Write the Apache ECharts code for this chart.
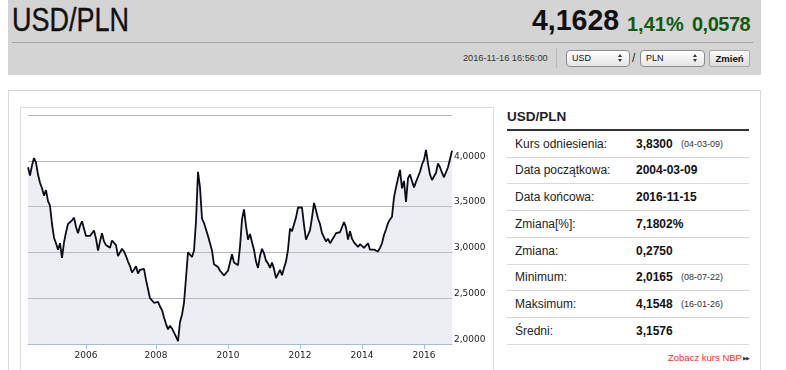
<!DOCTYPE html>
<html><head><meta charset="utf-8">
<script src="https://cdn.jsdelivr.net/npm/echarts@6/dist/echarts.min.js"></script>
<style>
html,body{margin:0;padding:0;background:#fff;width:786px;height:370px;overflow:hidden;font-family:"Liberation Sans",Arial,sans-serif;}
.a{position:absolute;white-space:nowrap;}
.sel{position:absolute;top:50px;height:15px;border:1px solid #8c8c8c;border-radius:4px;background:linear-gradient(#ffffff,#e6e6e6);font-size:9px;line-height:15px;color:#111;}
.sel span{position:absolute;left:5px;top:0;}
.up{position:absolute;right:7px;top:3px;width:0;height:0;border-left:2.5px solid transparent;border-right:2.5px solid transparent;border-bottom:3px solid #333;}
.dn{position:absolute;right:7px;top:8px;width:0;height:0;border-left:2.5px solid transparent;border-right:2.5px solid transparent;border-top:3px solid #333;}
.row{position:absolute;left:507px;width:242px;height:26px;border-bottom:1px solid #dadada;font-size:12px;line-height:26px;color:#222;}
.row .l{position:absolute;left:8px;top:0;}
.row .v{position:absolute;left:129px;top:0;font-weight:bold;color:#111;}
.row .s{position:absolute;left:174px;top:0;font-size:9px;color:#333;}
</style></head><body>
<!-- header -->
<div class="a" style="left:8px;top:0;width:753px;height:75px;background:#d4d4d4;"></div>
<div class="a" style="left:12px;top:4px;font-size:32.5px;line-height:32.5px;color:#111;transform:scaleX(0.83);transform-origin:0 0;-webkit-text-stroke:0.4px #111;">USD/PLN</div>
<div class="a" style="left:532px;top:5px;font-size:30px;line-height:30px;font-weight:bold;color:#111;transform:scaleX(0.95);transform-origin:0 0;">4,1628</div>
<div class="a" style="left:627px;top:13.8px;font-size:20px;line-height:20px;font-weight:bold;color:#125a12;">1,41%</div>
<div class="a" style="left:692px;top:13.8px;font-size:20px;line-height:20px;font-weight:bold;color:#125a12;letter-spacing:-0.5px;">0,0578</div>
<div class="a" style="left:12px;top:42px;width:741px;height:1px;background:#a4a4a4;"></div>
<div class="a" style="left:463px;top:53.5px;font-size:9.2px;line-height:9.2px;color:#333;">2016-11-16 16:56:00</div>
<div class="a" style="left:556px;top:48px;width:1px;height:20px;background:#b8b8b8;"></div>
<div class="sel" style="left:566px;width:62px;"><span>USD</span><i class="up"></i><i class="dn"></i></div>
<div class="a" style="left:632px;top:51px;font-size:12px;line-height:14px;color:#222;">/</div>
<div class="sel" style="left:640px;width:63px;"><span>PLN</span><i class="up"></i><i class="dn"></i></div>
<div class="a" style="left:709px;top:50px;width:39px;height:15px;border:1px solid #a8a8a8;border-radius:2px;background:linear-gradient(#fafafa,#dcdcdc);font-size:9.5px;line-height:15px;font-weight:bold;text-align:center;color:#111;">Zmień</div>
<!-- panels -->
<div class="a" style="left:8px;top:90px;width:751px;height:300px;border:1px solid #d8d8d8;"></div>
<div class="a" style="left:20px;top:107px;width:472px;height:300px;border:1px solid #dedede;"></div>
<!-- table -->
<div class="a" style="left:507px;top:110px;font-size:13.5px;line-height:13.5px;font-weight:bold;color:#222;">USD/PLN</div>
<div class="a" style="left:507px;top:129px;width:242px;height:1.5px;background:#333;"></div>
<div id="tbl"></div>
<div class="a" style="left:668px;top:353px;font-size:9.5px;line-height:10px;color:#f0321c;">Zobacz kurs NBP</div>
<div class="a" style="left:743px;top:355px;font-size:5px;line-height:6px;color:#333;letter-spacing:-1px;">▶▶</div>
<div id="chart" class="a" style="left:0;top:0;width:786px;height:370px;z-index:3;"></div>
<script>
// ---- data ----
const years = ['2004','2005','2006','2007','2008','2009','2010','2011','2012','2013','2014','2015','2016'];
const samplesPerYear = [13,16,18,17,18,18,18,18,16,15,16,15,15];
const labelYears = ['2006','2008','2010','2012','2014','2016'];
const yTickValues = [2.0, 2.5, 3.0, 3.5, 4.0];
const rates = [
 3.93,3.84,3.95,4.03,3.98,3.85,3.76,3.70,3.62,3.68,
 3.56,3.51,3.31,3.16,3.10,3.03,3.10,2.94,3.11,3.22,
 3.31,3.32,3.35,3.38,3.28,3.21,3.29,3.34,3.36,3.18,
 3.16,3.18,3.20,3.24,3.15,3.02,3.12,3.21,3.12,3.08,
 3.09,3.05,3.13,3.13,3.08,2.96,2.96,3.04,3.01,2.96,
 2.90,2.85,2.78,2.81,2.85,2.77,2.81,2.79,2.82,2.70,
 2.60,2.50,2.48,2.45,2.46,2.46,2.41,2.37,2.29,2.22,
 2.16,2.20,2.17,2.15,2.08,2.03,2.24,2.32,2.45,2.72,
 3.00,2.98,2.95,3.02,3.34,3.88,3.71,3.37,3.32,3.31,
 3.18,3.16,3.02,2.87,2.87,2.84,2.80,2.82,2.75,2.76,
 2.80,2.89,2.98,2.89,2.88,2.86,3.06,3.36,3.47,3.29,
 3.14,3.20,3.11,3.03,2.90,2.83,2.96,3.04,2.99,2.91,
 2.88,2.83,2.89,2.82,2.72,2.70,2.81,2.75,2.83,2.90,
 3.03,3.26,3.23,3.24,3.38,3.49,3.50,3.49,3.30,3.14,
 3.19,3.24,3.38,3.54,3.46,3.37,3.31,3.21,3.19,3.12,
 3.15,3.10,3.10,3.17,3.21,3.21,3.22,3.24,3.33,3.27,
 3.14,3.23,3.15,3.11,3.12,3.06,3.09,3.08,3.05,3.04,
 3.10,3.03,3.02,3.03,3.02,3.01,3.05,3.10,3.19,3.25,
 3.32,3.36,3.39,3.60,3.71,3.72,3.90,3.70,3.78,3.55,
 3.81,3.85,3.78,3.71,3.77,3.78,3.88,3.96,4.01,4.12,
 3.97,3.85,3.79,3.78,3.87,3.97,3.93,3.87,3.82,3.83,
 3.93,3.92,4.11
];
const tableLabels = ['Kurs odniesienia:','Data początkowa:','Data końcowa:','Zmiana[%]:','Zmiana:','Minimum:','Maksimum:','Średni:'];
const tableValues = ['3,8300','2004-03-09','2016-11-15','7,1802%','0,2750','2,0165','4,1548','3,1576'];
const tableNotes  = ['(04-03-09)','','','','','(08-07-22)','(16-01-26)',''];

// ---- table ----
const tbl = document.getElementById('tbl');
tableLabels.forEach((lab, i) => {
  const r = document.createElement('div');
  r.className = 'row';
  r.style.top = (130.5 + i * 26.75) + 'px';
  r.innerHTML = '<span class="l">' + lab + '</span><span class="v">' + tableValues[i] + '</span>' +
    (tableNotes[i] ? '<span class="s">' + tableNotes[i] + '</span>' : '');
  tbl.appendChild(r);
});

// ---- chart ----
const categories = [];
years.forEach((y, k) => { for (let j = 0; j < samplesPerYear[k]; j++) categories.push(y); });
const isYearStart = (idx) => idx > 0 && categories[idx - 1] !== categories[idx] && labelYears.includes(categories[idx]);

const chart = echarts.init(document.getElementById('chart'), null, {renderer: 'canvas'});
chart.setOption({
  animation: false,
  backgroundColor: 'transparent',
  grid: {left: 28, top: 115, width: 424, height: 229},
  xAxis: {
    type: 'category', data: categories, boundaryGap: false,
    axisLine: {lineStyle: {color: '#a9bbd1', width: 1}},
    axisTick: {interval: (i) => isYearStart(i), length: 5, lineStyle: {color: '#a9bbd1'}},
    axisLabel: {interval: (i) => isYearStart(i), color: '#222', fontSize: 9, fontFamily: 'DejaVu Sans', margin: 7},
    splitLine: {show: false}
  },
  yAxis: {
    type: 'value', position: 'right', min: 2, max: 4.5, interval: 0.5,
    axisLine: {show: false}, axisTick: {show: false},
    axisLabel: {
      formatter: (v) => yTickValues.some(t => Math.abs(t - v) < 1e-6) ? v.toFixed(4).replace('.', ',') : '',
      color: '#222', fontSize: 9, fontFamily: 'DejaVu Sans', margin: 2, verticalAlign: 'bottom'
    },
    splitLine: {lineStyle: {color: '#b6b6b6', width: 1}}
  },
  series: [{
    type: 'line', data: rates, showSymbol: false, symbol: 'none', silent: true,
    lineStyle: {color: '#0a0c16', width: 1.8},
    areaStyle: {color: 'rgba(196,202,220,0.45)'}
  }]
});
</script>
</body></html>
